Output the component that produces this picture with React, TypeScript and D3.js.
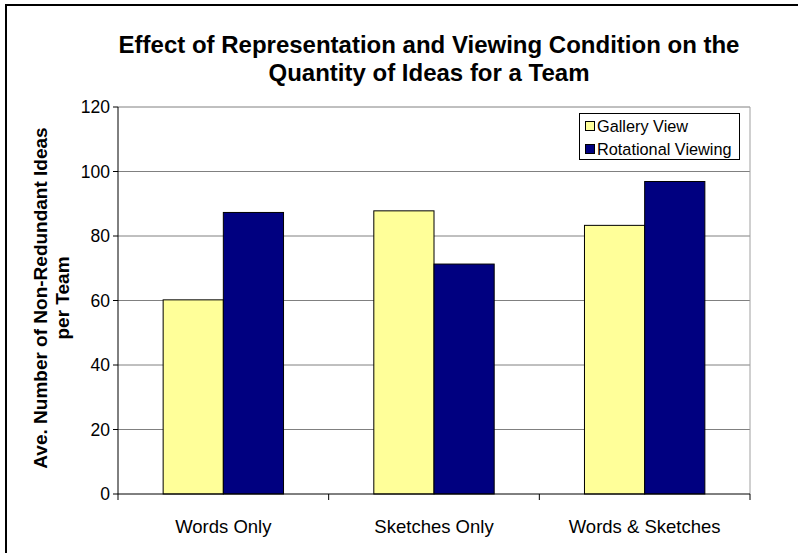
import React from "react";
import * as d3 from "d3";

const categories = ["Words Only", "Sketches Only", "Words & Sketches"];
const seriesNames = ["Gallery View", "Rotational Viewing"];
const galleryView = [60.2, 87.8, 83.3];
const rotationalViewing = [87.3, 71.3, 96.9];
const yTicks = [0, 20, 40, 60, 80, 100, 120];
const titleLines = [
  "Effect of Representation and Viewing Condition on the",
  "Quantity of Ideas for a Team",
];
const yLabelLines = ["Ave. Number of Non-Redundant Ideas", "per Team"];

const W = 798;
const H = 553;
const plot = { left: 118, right: 750, top: 107, bottom: 494 };
const colors = ["#FFFF99", "#000080"];
const font = "Arial, 'Liberation Sans', Helvetica, sans-serif";

export default function App() {
  const x = d3
    .scaleBand<string>()
    .domain(categories)
    .range([plot.left, plot.right])
    .paddingInner(0)
    .paddingOuter(0);
  const bw = x.bandwidth();
  const barW = bw / 3.5;
  const inner = d3
    .scaleBand<string>()
    .domain(seriesNames)
    .range([(bw - 2 * barW) / 2, (bw + 2 * barW) / 2]);
  const y = d3.scaleLinear().domain([0, 120]).range([plot.bottom, plot.top]);
  const series = [galleryView, rotationalViewing];
  const catTicks = [...categories.map((c) => x(c)!), plot.right];

  return (
    <svg
      width={W}
      height={H}
      style={{ position: "absolute", left: 0, top: 0, background: "#fff" }}
      fontFamily={font}
    >
      {/* outer frame (top and left edges) */}
      <line x1={5} x2={W} y1={5} y2={5} stroke="#000" strokeWidth={2} />
      <line x1={6} x2={6} y1={5} y2={H} stroke="#000" strokeWidth={2} />

      {/* title */}
      {titleLines.map((t, i) => (
        <text
          key={t}
          x={429}
          y={53 + i * 28}
          textAnchor="middle"
          fontSize={24}
          fontWeight="bold"
          fill="#000"
        >
          {t}
        </text>
      ))}

      {/* gridlines */}
      {yTicks
        .filter((v) => v > 0)
        .map((v) => (
          <line
            key={v}
            x1={plot.left}
            x2={plot.right}
            y1={y(v)}
            y2={y(v)}
            stroke="#808080"
            strokeWidth={1}
          />
        ))}
      {/* plot area right edge */}
      <line
        x1={plot.right}
        x2={plot.right}
        y1={plot.top}
        y2={plot.bottom}
        stroke="#a0a0a0"
        strokeWidth={1}
      />

      {/* bars */}
      {series.map((vals, si) =>
        vals.map((v, ci) => (
          <rect
            key={`${si}-${ci}`}
            x={x(categories[ci])! + inner(seriesNames[si])!}
            y={y(v)}
            width={barW}
            height={y(0) - y(v)}
            fill={colors[si]}
            stroke="#000"
            strokeWidth={1}
          />
        ))
      )}

      {/* y axis */}
      <line
        x1={plot.left}
        x2={plot.left}
        y1={plot.top}
        y2={plot.bottom}
        stroke="#000"
      />
      {yTicks.map((v) => (
        <g key={v}>
          <line
            x1={plot.left - 5}
            x2={plot.left}
            y1={y(v)}
            y2={y(v)}
            stroke="#000"
          />
          <text
            x={plot.left - 8}
            y={y(v)}
            dy="0.35em"
            textAnchor="end"
            fontSize={17.5}
            fill="#000"
          >
            {v}
          </text>
        </g>
      ))}

      {/* x axis */}
      <line
        x1={plot.left}
        x2={plot.right}
        y1={plot.bottom}
        y2={plot.bottom}
        stroke="#000"
      />
      {catTicks.map((tx, i) => (
        <line
          key={i}
          x1={tx}
          x2={tx}
          y1={plot.bottom}
          y2={plot.bottom + 6}
          stroke="#000"
        />
      ))}
      {categories.map((c) => (
        <text
          key={c}
          x={x(c)! + bw / 2}
          y={533}
          textAnchor="middle"
          fontSize={18.5}
          fill="#000"
        >
          {c}
        </text>
      ))}

      {/* y axis title */}
      <g transform="translate(0, 298) rotate(-90)">
        {yLabelLines.map((t, i) => (
          <text
            key={t}
            x={0}
            y={47 + i * 22}
            textAnchor="middle"
            fontSize={19}
            fontWeight="bold"
            fill="#000"
          >
            {t}
          </text>
        ))}
      </g>

      {/* legend */}
      <g>
        <rect
          x={579.5}
          y={113.5}
          width={160}
          height={46}
          fill="#fff"
          stroke="#000"
        />
        {seriesNames.map((n, i) => (
          <g key={n}>
            <rect
              x={585.5}
              y={121.5 + i * 23}
              width={9}
              height={9}
              fill={colors[i]}
              stroke="#000"
            />
            <text x={597} y={126 + i * 23} dy="0.35em" fontSize={16.3} fill="#000">
              {n}
            </text>
          </g>
        ))}
      </g>
    </svg>
  );
}
